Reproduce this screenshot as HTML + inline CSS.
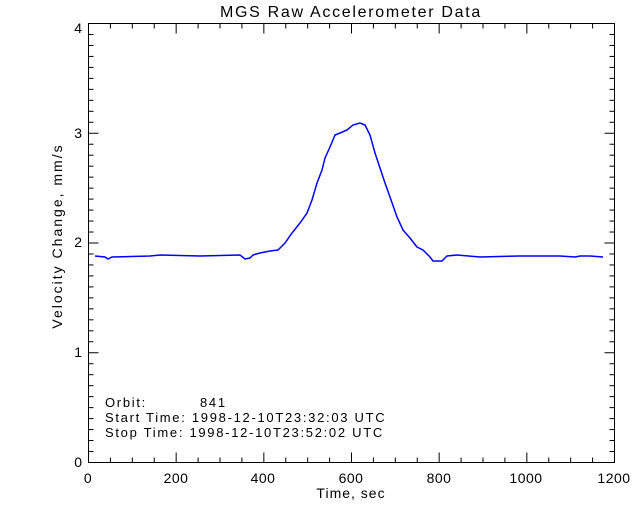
<!DOCTYPE html>
<html><head><meta charset="utf-8"><style>
html,body{margin:0;padding:0;background:#fff;}
svg{display:block;}
text{font-family:"Liberation Sans",sans-serif;fill:#000;}
</style></head><body>
<svg width="640" height="512" viewBox="0 0 640 512" xmlns="http://www.w3.org/2000/svg">
<rect width="640" height="512" fill="#fff"/>
<text x="351" y="17" font-size="16" letter-spacing="1.7" text-anchor="middle">MGS Raw Accelerometer Data</text>
<rect x="88.5" y="23.5" width="526" height="439" fill="none" stroke="#000" stroke-width="1"/>
<g stroke="#000" stroke-width="1" id="ticks"></g>
<g font-size="14" text-anchor="middle" letter-spacing="0.5">
<text x="88" y="483">0</text><text x="176" y="483">200</text><text x="263" y="483">400</text>
<text x="351" y="483">600</text><text x="439" y="483">800</text><text x="526" y="483">1000</text><text x="614" y="483">1200</text>
</g>
<text x="351" y="498" font-size="14" letter-spacing="1" text-anchor="middle">Time, sec</text>
<g font-size="14" text-anchor="end">
<text x="82" y="467">0</text><text x="82" y="357">1</text><text x="82" y="247">2</text><text x="82" y="138">3</text><text x="82" y="33">4</text>
</g>
<text transform="translate(62,236) rotate(-90)" font-size="14" letter-spacing="2" text-anchor="middle">Velocity Change, mm/s</text>
<g font-size="13" letter-spacing="1.7">
<text x="105" y="407">Orbit:</text><text x="200" y="407">841</text>
<text x="105" y="422">Start Time: 1998-12-10T23:32:03 UTC</text>
<text x="105" y="437">Stop Time: 1998-12-10T23:52:02 UTC</text>
</g>
<polyline fill="none" stroke="#0000ff" stroke-width="1.5" points="95,256 105,257 108,259 112,257 150,256 160,255 200,256 240,255 245,259 250,258 253,255 260,253 270,251 278,250 285,243 292,233 300,223 307,213 312,200 317,183 322,170 325,158 330,147 335,135 340,133 347,130 353,125 360,123 365,125 370,135 375,153 380,168 385,183 390,197 397,217 403,230 410,238 417,247 423,250 430,257 433,261 442,261 447,256 457,255 480,257 520,256 560,256 575,257 580,256 590,256 603,257"/>
</svg>
<script>
var g=document.getElementById('ticks'),s='';
function L(a,b,c,d){s+='<line x1="'+a+'" y1="'+b+'" x2="'+c+'" y2="'+d+'"/>';}
for(var i=0;i<=24;i++){var x=88.5+i*526/24;var l=(i%4==0)?10:5;L(x,462.5,x,462.5-l);L(x,23.5,x,23.5+l);}
for(var j=0;j<=40;j++){var y=462.5-j*439/40;var l=(j%10==0)?10:5;L(88.5,y,88.5+l,y);L(614.5,y,614.5-l,y);}
g.innerHTML=s;
</script>
</body></html>
